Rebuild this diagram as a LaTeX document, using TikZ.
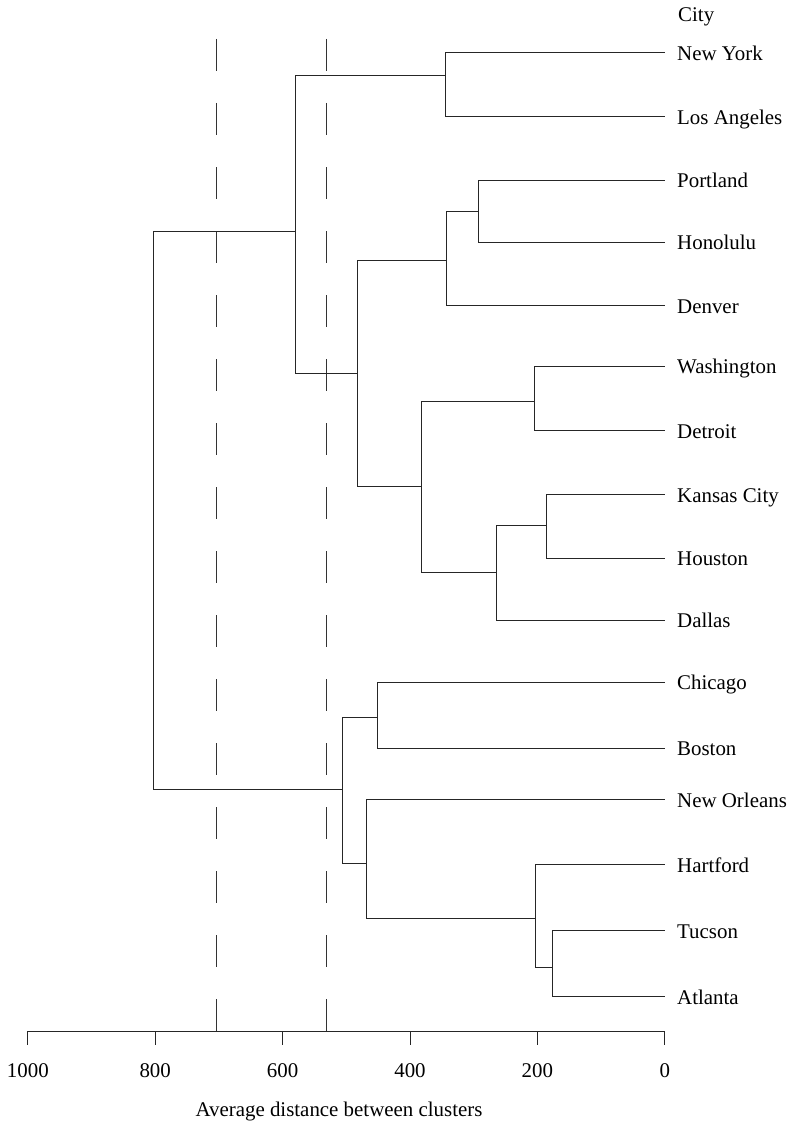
\documentclass[tikz,border=0pt]{standalone}
\usepackage{fontspec}
\setmainfont{Liberation Serif}
\begin{document}
\begin{tikzpicture}[x=1pt,y=-1pt,
  every node/.style={font=\fontsize{20.9}{25}\selectfont},
  leaf/.style={anchor=west,inner xsep=12pt,inner ysep=0pt,text height=15pt,text depth=0pt},
  link/.style={line width=1pt,draw=black!85},
  guide/.style={line width=1pt,draw=black!80,dash pattern=on 32pt off 32pt},
  tick/.style={line width=1pt,draw=black!85},
  ticklab/.style={anchor=base,inner sep=0pt}]
\useasboundingbox (0,0) rectangle (793,1121);
% guide lines
\coordinate (g1t) at (216,39);   \coordinate (g1b) at (216,1031);
\coordinate (g2t) at (326.7,39); \coordinate (g2b) at (326.7,1031);
\draw[guide] (g1t) -- (g1b);
\draw[guide] (g2t) -- (g2b);
% header
\node[anchor=base west,inner sep=0pt] (city) at (678,22) {City};
% leaves
\node[leaf] (NY) at (665,53) {New York};
\node[leaf] (LA) at (665,116.7) {Los Angeles};
\node[leaf] (PO) at (665,180.3) {Portland};
\node[leaf] (HO) at (665,242) {Honolulu};
\node[leaf] (DE) at (665,305.7) {Denver};
\node[leaf] (WA) at (665,366) {Washington};
\node[leaf] (DT) at (665,430.7) {Detroit};
\node[leaf] (KC) at (665,494.7) {Kansas City};
\node[leaf] (HU) at (665,558.3) {Houston};
\node[leaf] (DA) at (665,620) {Dallas};
\node[leaf] (CH) at (665,682.3) {Chicago};
\node[leaf] (BO) at (665,748) {Boston};
\node[leaf] (NO) at (665,799.5) {New Orleans};
\node[leaf] (HA) at (665,864.5) {Hartford};
\node[leaf] (TU) at (665,930.7) {Tucson};
\node[leaf] (AT) at (665,996.7) {Atlanta};
% internal nodes
\coordinate (nNYLA) at (445.5,76);
\coordinate (nPH) at (478,211);
\coordinate (nPHD) at (446,260.7);
\coordinate (nWD) at (534.5,401.5);
\coordinate (nKH) at (546.7,525.5);
\coordinate (nKHD) at (496,572.5);
\coordinate (nWDKHD) at (421.3,486.7);
\coordinate (nMid) at (357.7,373);
\coordinate (nTop) at (295,231);
\coordinate (nCB) at (377.3,717.7);
\coordinate (nTA) at (552.7,967.3);
\coordinate (nHTA) at (535.5,918.3);
\coordinate (nNOHTA) at (366.7,863.3);
\coordinate (nBot) at (342.3,789);
\coordinate (root) at (153.3,510);
% links
\draw[link] (root) |- (nTop);
\draw[link] (root) |- (nBot);
\draw[link] (nTop) |- (nNYLA);
\draw[link] (nTop) |- (nMid);
\draw[link] (nNYLA) |- (NY.west);
\draw[link] (nNYLA) |- (LA.west);
\draw[link] (nMid) |- (nPHD);
\draw[link] (nMid) |- (nWDKHD);
\draw[link] (nPHD) |- (nPH);
\draw[link] (nPHD) |- (DE.west);
\draw[link] (nPH) |- (PO.west);
\draw[link] (nPH) |- (HO.west);
\draw[link] (nWDKHD) |- (nWD);
\draw[link] (nWDKHD) |- (nKHD);
\draw[link] (nWD) |- (WA.west);
\draw[link] (nWD) |- (DT.west);
\draw[link] (nKHD) |- (nKH);
\draw[link] (nKHD) |- (DA.west);
\draw[link] (nKH) |- (KC.west);
\draw[link] (nKH) |- (HU.west);
\draw[link] (nBot) |- (nCB);
\draw[link] (nBot) |- (nNOHTA);
\draw[link] (nCB) |- (CH.west);
\draw[link] (nCB) |- (BO.west);
\draw[link] (nNOHTA) |- (NO.west);
\draw[link] (nNOHTA) |- (nHTA);
\draw[link] (nHTA) |- (HA.west);
\draw[link] (nHTA) |- (nTA);
\draw[link] (nTA) |- (TU.west);
\draw[link] (nTA) |- (AT.west);
% axis
\coordinate (ax0) at (27.8,1031);
\coordinate (ax1) at (664.8,1031);
\draw[tick] (ax0) -- (ax1);
\foreach \d/\n in {1000/t1000,800/t800,600/t600,400/t400,200/t200,0/t0}{
  \coordinate (\n) at ({664.8-0.637*\d},1031);
  \draw[tick] (\n) -- ++(0,14);
  \node[ticklab] (\n lab) at ({664.8-0.637*\d},1077) {\d};
}
\node[anchor=base,inner sep=0pt] (xtitle) at (339,1116) {Average distance between clusters};
\end{tikzpicture}
\end{document}
